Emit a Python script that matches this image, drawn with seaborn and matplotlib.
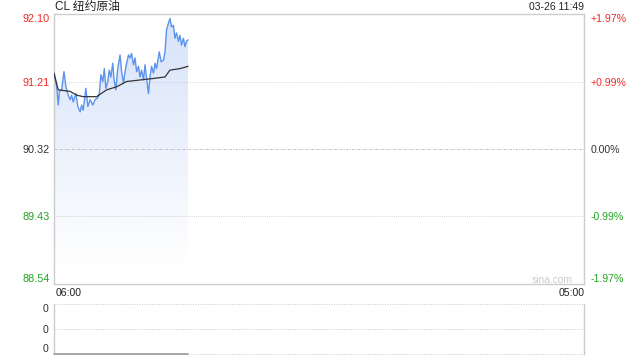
import numpy as np
import pandas as pd
import matplotlib
matplotlib.use("Agg")
import matplotlib.pyplot as plt
import seaborn as sns

# ---------------- data ----------------
title = "CL 纽约原油"
timestamp = "03-26 11:49"
prev_close = 90.32
x_start_label, x_end_label = "06:00", "05:00"
session_minutes = 1380  # 06:00 -> 05:00 next day

minutes = [0, 7, 11, 14, 20, 26, 31, 37, 42, 46, 50, 57, 62, 68, 72, 76, 83, 88, 94, 101,
           107, 113, 118, 122, 127, 131, 135, 140, 144, 148, 153, 156, 161, 166, 172, 176,
           181, 185, 189, 194, 198, 202, 207, 211, 215, 220, 224, 228, 233, 237, 241, 246,
           250, 254, 259, 263, 267, 274, 279, 285, 289, 293, 298, 302, 306, 311, 315, 319,
           324, 328, 332, 337, 341, 345, 349]
price = [91.32, 91.14, 90.90, 91.08, 91.10, 91.34, 91.14, 91.03, 90.97, 91.03, 90.94, 91.05,
         90.88, 90.81, 90.90, 90.83, 91.12, 90.88, 90.97, 90.90, 90.97, 90.99, 91.05, 91.30,
         91.21, 91.38, 91.12, 91.21, 91.36, 91.27, 91.45, 91.25, 91.10, 91.38, 91.56, 91.34,
         91.19, 91.34, 91.45, 91.56, 91.52, 91.58, 91.43, 91.52, 91.34, 91.41, 91.27, 91.36,
         91.23, 91.43, 91.25, 91.05, 91.27, 91.41, 91.32, 91.45, 91.38, 91.60, 91.47, 91.49,
         91.60, 91.89, 91.98, 92.04, 91.93, 91.95, 91.78, 91.85, 91.74, 91.82, 91.69, 91.78,
         91.67, 91.74, 91.76]

avg_minutes = [0, 11, 42, 59, 76, 111, 137, 163, 189, 224, 259, 289, 302, 328, 349]
avg_price = [91.32, 91.10, 91.08, 91.03, 91.01, 91.01, 91.10, 91.14, 91.21, 91.23, 91.25,
             91.27, 91.36, 91.38, 91.41]

y_ticks = [92.10, 91.21, 90.32, 89.43, 88.54]
y_tick_labels = ["92.10", "91.21", "90.32", "89.43", "88.54"]
pct_tick_labels = ["+1.97%", "+0.99%", "0.00%", "-0.99%", "-1.97%"]

vol_minutes = [0, 349]
vol_values = [0, 0]
vol_tick_labels = ["0", "0", "0"]

# ---------------- style ----------------
sns.set_style("white")
plt.rcParams["font.family"] = ["Liberation Sans", "Noto Sans CJK SC", "DejaVu Sans"]

RED = "#f02828"
GREEN = "#1ea51e"
DARK = "#333333"
BORDER = "#cccccc"
LINE = "#5b93ee"
GRID = "#c8c8c8"

def tick_color(v):
    if v > prev_close + 1e-9:
        return RED
    if v < prev_close - 1e-9:
        return GREEN
    return DARK

fig = plt.figure(figsize=(6.4, 3.6), dpi=100)
W, H = 640, 360
ax = fig.add_axes([54 / W, 1 - 284 / H, 530 / W, 270 / H])
axv = fig.add_axes([54 / W, 1 - 354 / H, 530 / W, 50 / H])

df = pd.DataFrame({"minute": minutes, "price": price})
dfa = pd.DataFrame({"minute": avg_minutes, "price": avg_price})

ymin, ymax = min(y_ticks), max(y_ticks)

# gradient fill under the price line
poly = ax.fill_between(df["minute"], df["price"], ymin, color="none", lw=0)
grad = np.zeros((256, 1, 4))
grad[:, 0, 0] = 0.84
grad[:, 0, 1] = 0.89
grad[:, 0, 2] = 0.98
grad[:, 0, 3] = np.linspace(1.0, 0.0, 256)
im = ax.imshow(grad, extent=[0, max(minutes), 88.78, ymax], aspect="auto",
               origin="upper", zorder=1, interpolation="bilinear")
im.set_clip_path(poly.get_paths()[0], transform=ax.transData)

sns.lineplot(data=df, x="minute", y="price", ax=ax, color=LINE, lw=1.0, zorder=3)
sns.lineplot(data=dfa, x="minute", y="price", ax=ax, color=DARK, lw=0.9, zorder=4)

ax.set_xlim(0, session_minutes)
ax.set_ylim(ymin, ymax)
ax.set_xlabel("")
ax.set_ylabel("")

# grid lines
for v in y_ticks[1:-1]:
    if abs(v - prev_close) < 1e-9:
        ax.axhline(v, color="#b4b4b4", lw=0.6, ls=(0, (3, 1.5, 1, 1.5)), zorder=2)
    else:
        ax.axhline(v, color=GRID, lw=0.6, ls=(0, (1, 1.5)), zorder=2)

for s in ax.spines.values():
    s.set_color(BORDER)
    s.set_linewidth(1.0)

ax.set_xticks([])
ax.set_yticks(y_ticks)
ax.set_yticklabels(y_tick_labels, fontsize=7.8)
ax.tick_params(axis="y", length=0, pad=3)
labels = ax.get_yticklabels()
for lab, v in zip(labels, y_ticks):
    lab.set_color(tick_color(v))
labels[0].set_va("top")
labels[-1].set_va("bottom")

axr = ax.twinx()
axr.set_ylim(ymin, ymax)
axr.set_yticks(y_ticks)
axr.set_yticklabels(pct_tick_labels, fontsize=7.6)
axr.tick_params(axis="y", length=0, pad=5)
rl = axr.get_yticklabels()
for lab, v in zip(rl, y_ticks):
    lab.set_color(tick_color(v))
rl[0].set_va("top")
rl[-1].set_va("bottom")
for s in axr.spines.values():
    s.set_visible(False)

# texts
fig.text(55 / W, 1 - 7 / H, title, fontsize=8.5, color="#222222", va="center", ha="left",
         family=["Liberation Sans", "Noto Sans CJK SC"])
fig.text(584 / W, 1 - 7 / H, timestamp, fontsize=7.5, color="#222222", va="center", ha="right")
fig.text(56 / W, 1 - 293 / H, x_start_label, fontsize=7.6, color="#222222", va="center", ha="left")
fig.text(585 / W, 1 - 293 / H, x_end_label, fontsize=7.6, color="#222222", va="center", ha="right")
fig.text(573 / W, 1 - 280 / H, "sina.com", fontsize=7.4, color="#cccccc", va="center", ha="right")

# volume panel
dfv = pd.DataFrame({"minute": vol_minutes, "vol": vol_values})
axv.set_xlim(0, session_minutes)
axv.set_ylim(0, 1)
sns.lineplot(data=dfv, x="minute", y="vol", ax=axv, color="#999999", lw=1.2, clip_on=False, zorder=5)
axv.set_xlabel("")
axv.set_ylabel("")
axv.set_xticks([])
vt = [0, 0.5, 1]
axv.set_yticks(vt)
axv.set_yticklabels(vol_tick_labels, fontsize=7.6)
axv.tick_params(axis="y", length=0, pad=4)
vl = axv.get_yticklabels()
for lab in vl:
    lab.set_color(DARK)
vl[0].set_va("bottom")
vl[-1].set_va("top")
for v in vt:
    axv.axhline(v, color=GRID, lw=0.7, ls=(0, (1, 1.5)), clip_on=False, zorder=1)
for side in ["top", "bottom"]:
    axv.spines[side].set_visible(False)
for side in ["left", "right"]:
    axv.spines[side].set_color(BORDER)
    axv.spines[side].set_linewidth(1.0)

fig.savefig("out.png", dpi=100)
